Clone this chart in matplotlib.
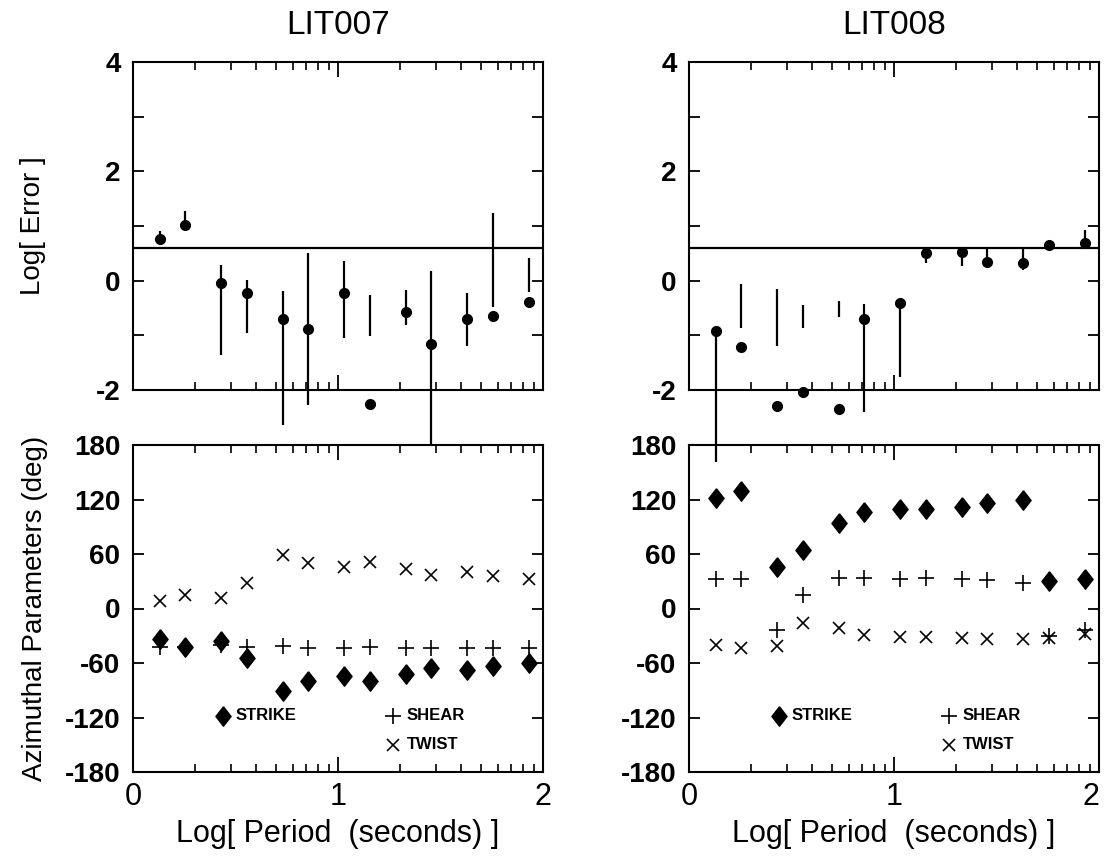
import numpy as np
import matplotlib.pyplot as plt
from matplotlib.ticker import FixedLocator, NullFormatter

# Log period of each estimate (same for both sites)
log_period = [0.13, 0.255, 0.43, 0.555, 0.73, 0.855, 1.03, 1.155, 1.33, 1.455, 1.63, 1.755, 1.93]

# LIT007
err_007 = [0.76, 1.02, -0.04, -0.23, -0.70, -0.88, -0.23, -2.26, -0.57, -1.15, -0.71, -0.65, -0.39]
bar_lo_007 = [0.72, 0.95, -1.36, -0.96, -2.64, -2.27, -1.05, -1.02, -0.81, -3.00, -1.19, -0.49, -0.20]
bar_hi_007 = [0.90, 1.27, 0.29, 0.01, -0.19, 0.51, 0.36, -0.26, -0.17, 0.18, -0.23, 1.24, 0.42]
strike_007 = [-34, -42, -36, -54, -91, -80, -74, -80, -72, -65, -68, -63, -60]
shear_007 = [-42, -42, -40, -42, -41, -43, -43, -42, -43, -43, -43, -43, -43]
twist_007 = [8, 15, 12, 28, 59, 50, 46, 51, 44, 37, 40, 36, 33]

# LIT008
err_008 = [-0.92, -1.22, -2.29, -2.03, -2.35, -0.71, -0.40, 0.51, 0.52, 0.34, 0.33, 0.66, 0.68]
bar_lo_008 = [-3.32, -0.87, -1.19, -0.86, -0.66, -2.40, -1.77, 0.32, 0.26, 0.34, 0.20, 0.62, 0.60]
bar_hi_008 = [-0.92, -0.06, -0.16, -0.44, -0.38, -0.43, -0.40, 0.62, 0.60, 0.60, 0.60, 0.72, 0.93]
strike_008 = [122, 129, 46, 64, 94, 106, 109, 109, 112, 116, 119, 30, 32]
shear_008 = [33, 32, -24, 15, 34, 34, 33, 34, 32, 31, 28, -30, -24]
twist_008 = [-40, -44, -41, -16, -22, -29, -31, -31, -32, -34, -34, -32, -28]

err_level = 0.6

sites = [
    ("LIT007", err_007, bar_lo_007, bar_hi_007, strike_007, shear_007, twist_007),
    ("LIT008", err_008, bar_lo_008, bar_hi_008, strike_008, shear_008, twist_008),
]

tick_font = dict(family="Liberation Sans", weight="bold", size=20)
label_font = "Liberation Sans"
diamond = [(0, 1), (0.78, 0), (0, -1), (-0.78, 0), (0, 1)]

fig = plt.figure(figsize=(11.06, 8.61), dpi=100)

lefts = [133 / 1106, 689 / 1106]
width = 410 / 1106
top_box = (1 - 390 / 861, 328 / 861)
bot_box = (1 - 772 / 861, 327 / 861)

minor_x = [np.log10(m) + d for d in (0, 1) for m in range(2, 10)]


def style_x(ax):
    ax.set_xlim(0, 2)
    ax.xaxis.set_major_locator(FixedLocator([0, 1, 2]))
    ax.xaxis.set_minor_locator(FixedLocator(minor_x))
    ax.tick_params(axis="x", which="major", direction="in", length=11, width=1.3,
                   top=True, bottom=True)
    ax.tick_params(axis="x", which="minor", direction="in", length=6, width=1.2,
                   top=True, bottom=True)
    for s in ax.spines.values():
        s.set_linewidth(1.5)


for i, (name, err, lo, hi, strike, shear, twist) in enumerate(sites):
    # error panel
    ax1 = fig.add_axes([lefts[i], top_box[0], width, top_box[1]])
    ax1.set_zorder(3)
    ax1.patch.set_visible(False)
    ax1.axhline(err_level, color="black", lw=1.6)
    ax1.vlines(log_period, lo, hi, color="black", lw=1.6, clip_on=False, zorder=5)
    ax1.plot(log_period, err, "o", color="black", ms=7, clip_on=False, zorder=6)
    style_x(ax1)
    ax1.set_ylim(-2, 4)
    ax1.yaxis.set_major_locator(FixedLocator([-2, 0, 2, 4]))
    ax1.yaxis.set_minor_locator(FixedLocator([-1, 1, 3]))
    ax1.tick_params(axis="y", which="both", direction="in", length=8, width=1.3,
                    left=True, right=True, pad=9)
    ax1.xaxis.set_major_formatter(NullFormatter())
    ax1.set_yticks([-2, 0, 2, 4])
    ax1.set_yticklabels(["-2", "0", "2", "4"], fontdict=tick_font)
    ax1.set_title(name, fontsize=24, family="Liberation Sans", pad=20)

    # azimuth panel
    ax2 = fig.add_axes([lefts[i], bot_box[0], width, bot_box[1]])
    ax2.plot(log_period, strike, ls="none", marker=diamond, color="black", ms=14)
    ax2.plot(log_period, shear, "+", color="black", ms=11, mew=1.2)
    ax2.plot(log_period, twist, "x", color="black", ms=8, mew=1.2)
    style_x(ax2)
    ax2.set_ylim(-180, 180)
    yt = [-180, -120, -60, 0, 60, 120, 180]
    ax2.set_yticks(yt)
    ax2.set_yticklabels([str(v) for v in yt], fontdict=tick_font)
    ax2.tick_params(axis="y", which="both", direction="in", length=8, width=1.3,
                    left=True, right=True, pad=9)
    xlabels = ax2.set_xticklabels(["0", "1", "2"], fontsize=22, family=label_font)
    if i == 1:
        xlabels[-1].set_horizontalalignment("right")
    ax2.tick_params(axis="x", pad=7)
    ax2.set_xlabel("Log[ Period  (seconds) ]", fontsize=22, family=label_font, labelpad=5)

    # key
    ax2.plot([0.44], [-118], ls="none", marker=diamond, color="black", ms=14)
    ax2.text(0.50, -118, "STRIKE", fontsize=12, weight="bold", family="Liberation Sans",
             va="center")
    ax2.plot([1.27], [-118], "+", color="black", ms=11, mew=1.2)
    ax2.plot([1.27], [-150], "x", color="black", ms=8, mew=1.2)
    ax2.text(1.335, -118, "SHEAR", fontsize=12, weight="bold", family="Liberation Sans",
             va="center")
    ax2.text(1.335, -150, "TWIST", fontsize=12, weight="bold", family="Liberation Sans",
             va="center")

    if i == 0:
        ax1.set_ylabel("Log[ Error ]", fontsize=20, family=label_font, labelpad=36)
        ax2.set_ylabel("Azimuthal Parameters (deg)", fontsize=20, family=label_font,
                       labelpad=12)

fig.savefig("out.png", dpi=100)
